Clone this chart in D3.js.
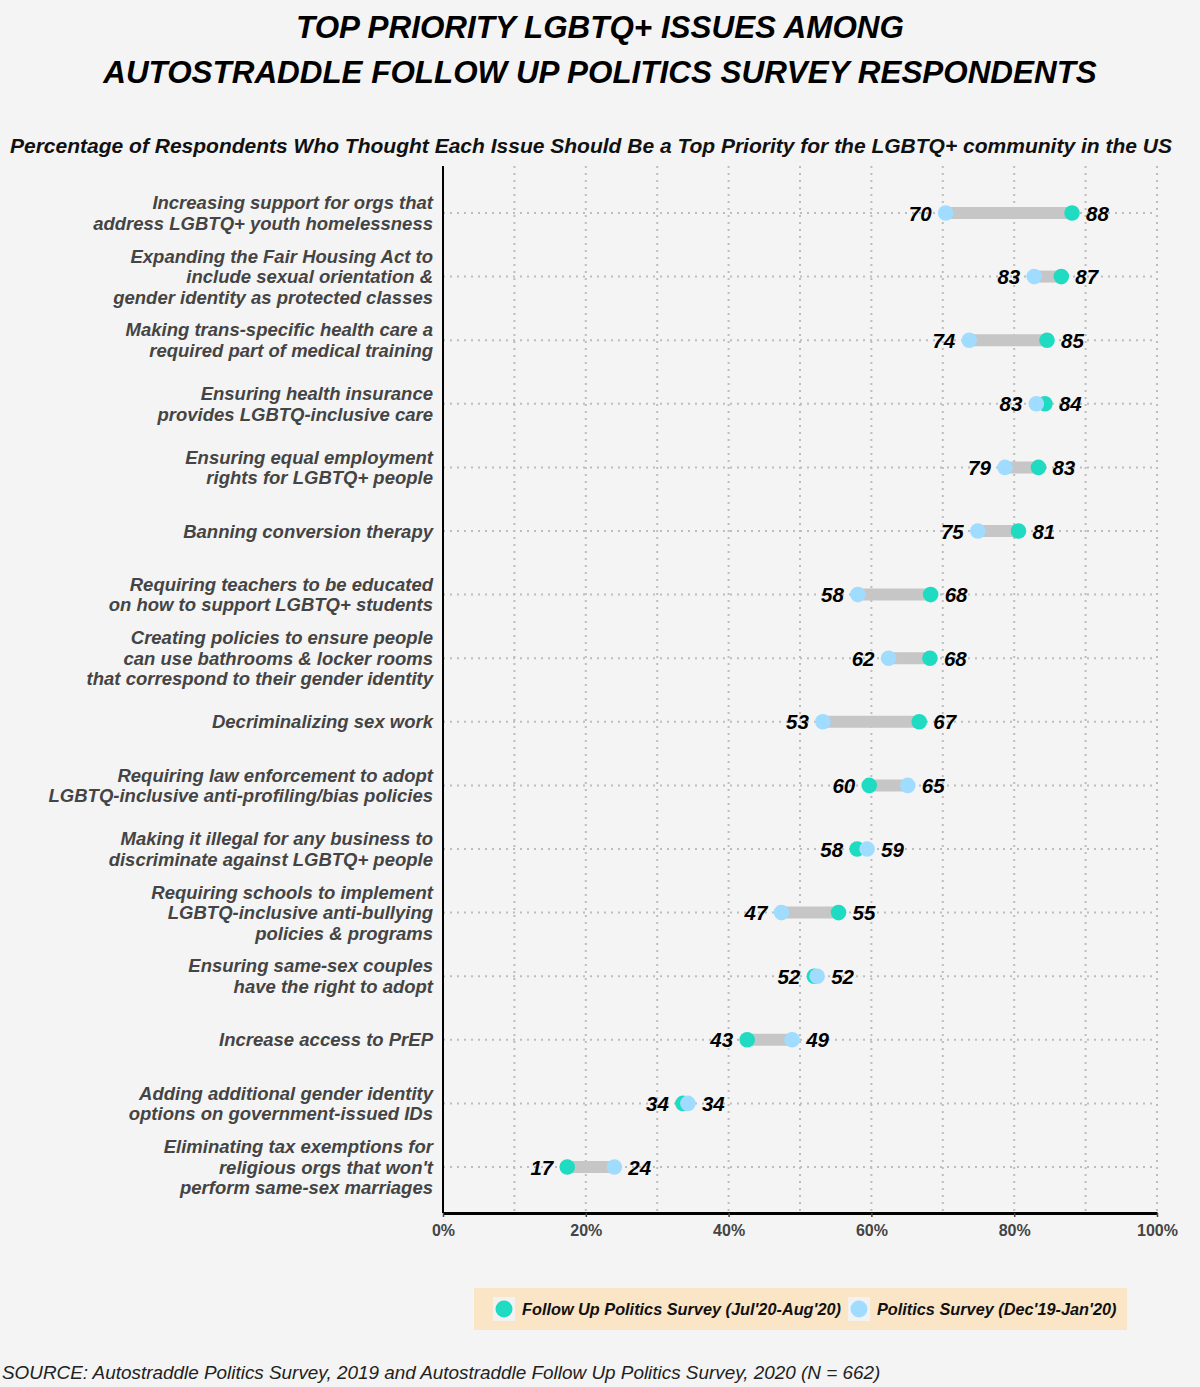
<!DOCTYPE html>
<html>
<head>
<meta charset="utf-8">
<script src="https://cdn.jsdelivr.net/npm/d3@7"></script>
<style>
  body { margin: 0; background: #f4f4f4; }
  text { font-family: "Liberation Sans", Arial, sans-serif; }
</style>
</head>
<body>
<svg id="chart"></svg>
<script>
var width = 1200;
var height = 1387;

// issues, top to bottom
var issues = [
  ["Increasing support for orgs that", "address LGBTQ+ youth homelessness"],
  ["Expanding the Fair Housing Act to", "include sexual orientation &", "gender identity as protected classes"],
  ["Making trans-specific health care a", "required part of medical training"],
  ["Ensuring health insurance", "provides LGBTQ-inclusive care"],
  ["Ensuring equal employment", "rights for LGBTQ+ people"],
  ["Banning conversion therapy"],
  ["Requiring teachers to be educated", "on how to support LGBTQ+ students"],
  ["Creating policies to ensure people", "can use bathrooms & locker rooms", "that correspond to their gender identity"],
  ["Decriminalizing sex work"],
  ["Requiring law enforcement to adopt", "LGBTQ-inclusive anti-profiling/bias policies"],
  ["Making it illegal for any business to", "discriminate against LGBTQ+ people"],
  ["Requiring schools to implement", "LGBTQ-inclusive anti-bullying", "policies & programs"],
  ["Ensuring same-sex couples", "have the right to adopt"],
  ["Increase access to PrEP"],
  ["Adding additional gender identity", "options on government-issued IDs"],
  ["Eliminating tax exemptions for", "religious orgs that won't", "perform same-sex marriages"]
];

// % of respondents, Follow Up Politics Survey (Jul'20-Aug'20)
var followUp = [88.1, 86.6, 84.6, 84.3, 83.4, 80.6, 68.3, 68.2, 66.7, 59.7, 58.0, 55.4, 52.0, 42.6, 33.6, 17.4];
// % of respondents, Politics Survey (Dec'19-Jan'20)
var politics = [70.4, 82.8, 73.7, 83.1, 78.7, 74.9, 58.1, 62.4, 53.2, 65.1, 59.4, 47.4, 52.4, 48.9, 34.3, 24.0];

var xTicks = [0, 20, 40, 60, 80, 100];
var xGrid = [10, 20, 30, 40, 50, 60, 70, 80, 90, 100];

var seriesNames = ["Follow Up Politics Survey (Jul'20-Aug'20)", "Politics Survey (Dec'19-Jan'20)"];
var seriesColors = ["#1fdbc1", "#9fdcff"];

var rows = issues.map(function(lines, i) {
  return { id: i, lines: lines, follow: followUp[i], pol: politics[i] };
});

var plotLeft = 443, plotRight = 1157, plotTop = 166, plotBottom = 1213;

var svg = d3.select("#chart")
    .attr("width", width)
    .attr("height", height);

svg.append("rect")
    .attr("width", width)
    .attr("height", height)
    .attr("fill", "#f4f4f4");

var xScale = d3.scaleLinear()
    .domain([0, 100])
    .range([plotLeft, plotRight]);

var yScale = d3.scalePoint()
    .domain(rows.map(d => d.id))
    .range([213, 1167]);

// titles
svg.append("text")
    .attr("x", width / 2)
    .attr("y", 38)
    .attr("text-anchor", "middle")
    .attr("font-size", 31.4)
    .attr("font-weight", "bold")
    .attr("font-style", "italic")
    .text("TOP PRIORITY LGBTQ+ ISSUES AMONG");

svg.append("text")
    .attr("x", width / 2)
    .attr("y", 83)
    .attr("text-anchor", "middle")
    .attr("font-size", 31.4)
    .attr("font-weight", "bold")
    .attr("font-style", "italic")
    .text("AUTOSTRADDLE FOLLOW UP POLITICS SURVEY RESPONDENTS");

svg.append("text")
    .attr("x", 10)
    .attr("y", 153)
    .attr("font-size", 21)
    .attr("font-weight", "bold")
    .attr("font-style", "italic")
    .attr("fill", "#111")
    .text("Percentage of Respondents Who Thought Each Issue Should Be a Top Priority for the LGBTQ+ community in the US");

// grid
svg.append("g")
  .selectAll("line")
  .data(xGrid)
  .enter()
  .append("line")
    .attr("x1", d => xScale(d))
    .attr("x2", d => xScale(d))
    .attr("y1", plotTop)
    .attr("y2", plotBottom)
    .attr("stroke", "#bdbdbd")
    .attr("stroke-width", 2)
    .attr("stroke-dasharray", "2,5");

svg.append("g")
  .selectAll("line")
  .data(rows)
  .enter()
  .append("line")
    .attr("x1", plotLeft)
    .attr("x2", plotRight)
    .attr("y1", d => yScale(d.id))
    .attr("y2", d => yScale(d.id))
    .attr("stroke", "#bdbdbd")
    .attr("stroke-width", 2)
    .attr("stroke-dasharray", "2,5");

// axes
var xAxis = d3.axisBottom(xScale)
    .tickValues(xTicks)
    .tickFormat(d => d + "%")
    .tickSize(4)
    .tickSizeOuter(0);

var gx = svg.append("g")
    .attr("transform", "translate(0," + plotBottom + ")")
    .call(xAxis);
gx.select(".domain").attr("stroke", "#000").attr("stroke-width", 3);
gx.selectAll(".tick line").attr("stroke", "#444").attr("stroke-width", 1.5);
gx.selectAll(".tick text")
    .attr("font-family", "Liberation Sans, Arial, sans-serif")
    .attr("font-size", 16)
    .attr("font-weight", "bold")
    .attr("fill", "#444")
    .attr("dy", "1.0em");

svg.append("line")
    .attr("x1", plotLeft)
    .attr("x2", plotLeft)
    .attr("y1", plotTop)
    .attr("y2", plotBottom)
    .attr("stroke", "#000")
    .attr("stroke-width", 2);

// category labels
var lineH = 20.5;
var labels = svg.append("g")
  .selectAll("text")
  .data(rows)
  .enter()
  .append("text")
    .attr("x", 433)
    .attr("y", d => yScale(d.id) - (d.lines.length - 1) * lineH / 2 + 6.5)
    .attr("text-anchor", "end")
    .attr("font-size", 18.5)
    .attr("font-weight", "bold")
    .attr("font-style", "italic")
    .attr("fill", "#444");

labels.selectAll("tspan")
  .data(d => d.lines.map((t, i) => ({ t: t, i: i })))
  .enter()
  .append("tspan")
    .attr("x", 433)
    .attr("dy", d => d.i === 0 ? 0 : lineH)
    .text(d => d.t);

// bars
svg.append("g")
  .selectAll("line")
  .data(rows)
  .enter()
  .append("line")
    .attr("x1", d => xScale(Math.min(d.follow, d.pol)))
    .attr("x2", d => xScale(Math.max(d.follow, d.pol)))
    .attr("y1", d => yScale(d.id))
    .attr("y2", d => yScale(d.id))
    .attr("stroke", "#c6c6c6")
    .attr("stroke-width", 12);

// points: follow up first, politics on top
svg.append("g")
  .selectAll("circle")
  .data(rows)
  .enter()
  .append("circle")
    .attr("cx", d => xScale(d.follow))
    .attr("cy", d => yScale(d.id))
    .attr("r", 7.8)
    .attr("fill", seriesColors[0]);

svg.append("g")
  .selectAll("circle")
  .data(rows)
  .enter()
  .append("circle")
    .attr("cx", d => xScale(d.pol))
    .attr("cy", d => yScale(d.id))
    .attr("r", 7.8)
    .attr("fill", seriesColors[1]);

// value labels
function valueLabel(val, other, tieLeft) {
  var isLow = val < other || (val === other && tieLeft);
  return { x: xScale(val) + (isLow ? -14 : 14), anchor: isLow ? "end" : "start", text: Math.round(val) };
}

var valueData = [];
rows.forEach(function(d) {
  valueData.push(Object.assign({ y: yScale(d.id) }, valueLabel(d.follow, d.pol, true)));
  valueData.push(Object.assign({ y: yScale(d.id) }, valueLabel(d.pol, d.follow, false)));
});

svg.append("g")
  .selectAll("text")
  .data(valueData)
  .enter()
  .append("text")
    .attr("x", d => d.x)
    .attr("y", d => d.y + 7.5)
    .attr("text-anchor", d => d.anchor)
    .attr("font-size", 20.5)
    .attr("font-weight", "bold")
    .attr("font-style", "italic")
    .attr("fill", "#000")
    .text(d => d.text);

// legend
var legend = svg.append("g");
legend.append("rect")
    .attr("x", 474)
    .attr("y", 1288)
    .attr("width", 653)
    .attr("height", 42)
    .attr("fill", "#fbe5c7");

var legendX = [504, 859];
var legendItems = legend.selectAll("g.item")
  .data(seriesNames)
  .enter()
  .append("g")
    .attr("class", "item")
    .attr("transform", (d, i) => "translate(" + legendX[i] + ",1309)");

legendItems.append("rect")
    .attr("x", -11)
    .attr("y", -12)
    .attr("width", 22)
    .attr("height", 24)
    .attr("fill", "#f2f2f2");

legendItems.append("circle")
    .attr("r", 8.5)
    .attr("fill", (d, i) => seriesColors[i]);

legendItems.append("text")
    .attr("x", 18)
    .attr("y", 6)
    .attr("font-size", 16.3)
    .attr("font-weight", "bold")
    .attr("font-style", "italic")
    .attr("fill", "#111")
    .text(d => d);

// source
svg.append("text")
    .attr("x", 2)
    .attr("y", 1379)
    .attr("font-size", 18.9)
    .attr("font-style", "italic")
    .attr("fill", "#222")
    .text("SOURCE: Autostraddle Politics Survey, 2019 and Autostraddle Follow Up Politics Survey, 2020 (N = 662)");
</script>
</body>
</html>
